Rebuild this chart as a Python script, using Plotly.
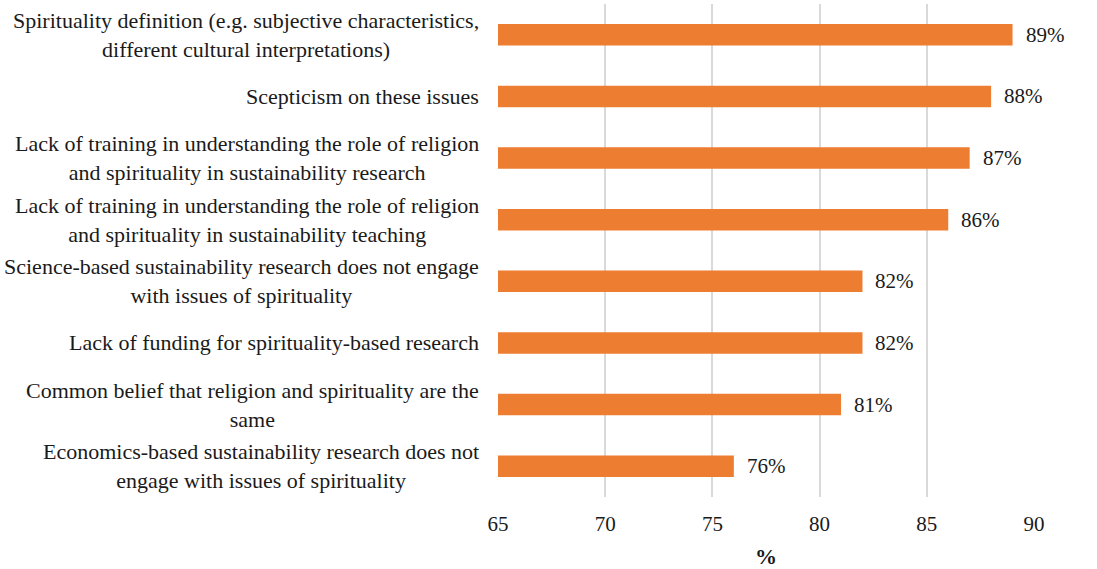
import plotly.graph_objects as go

# Barriers, listed top to bottom
categories = [
    "Spirituality definition (e.g. subjective characteristics,<br>different cultural interpretations)",
    "Scepticism on these issues",
    "Lack of training in understanding the role of religion<br>and spirituality in sustainability research",
    "Lack of training in understanding the role of religion<br>and spirituality in sustainability teaching",
    "Science-based sustainability research does not engage<br>with issues of spirituality",
    "Lack of funding for spirituality-based research",
    "Common belief that religion and spirituality are the<br>same",
    "Economics-based sustainability research does not<br>engage with issues of spirituality",
]
values = [89, 88, 87, 86, 82, 82, 81, 76]
x_ticks = [65, 70, 75, 80, 85, 90]

FONT = "Liberation Serif"
ORANGE = "#ED7D31"
TEXT = "#1a1a1a"

fig = go.Figure(
    go.Bar(
        x=values,
        y=categories,
        orientation="h",
        base=0,
        marker=dict(color=ORANGE, line=dict(width=0)),
        width=0.35,
        hoverinfo="x+y",
    )
)

# Category labels: centred multi-line blocks to the left of the plot
for cat in categories:
    fig.add_annotation(
        x=0, xref="paper", xshift=-17,
        y=cat, yref="y",
        text=cat, showarrow=False,
        xanchor="right", yanchor="middle", align="center",
        font=dict(family=FONT, size=22, color=TEXT),
    )

# Value labels just past the end of each bar
for cat, v in zip(categories, values):
    fig.add_annotation(
        x=v, xref="x", xshift=11,
        y=cat, yref="y",
        text=f"{v}%", showarrow=False,
        xanchor="left", yanchor="middle",
        font=dict(family=FONT, size=21, color=TEXT),
    )

fig.update_layout(
    width=1097, height=569,
    margin=dict(l=498, r=63, t=4, b=72),
    paper_bgcolor="white", plot_bgcolor="white",
    showlegend=False,
    font=dict(family=FONT, size=21, color=TEXT),
    xaxis=dict(
        range=[65, 90], tickvals=x_ticks,
        showgrid=True, gridcolor="#d9d9d9", gridwidth=2,
        zeroline=False, showline=False,
        ticks="", ticklabelstandoff=12,
        tickfont=dict(family=FONT, size=21, color=TEXT),
        title=dict(text="<b>%</b>", font=dict(family=FONT, size=22, color=TEXT), standoff=14),
    ),
    yaxis=dict(
        categoryorder="array", categoryarray=categories[::-1],
        showticklabels=False, showgrid=False, zeroline=False, showline=False,
    ),
)

fig.write_html("out.html")
